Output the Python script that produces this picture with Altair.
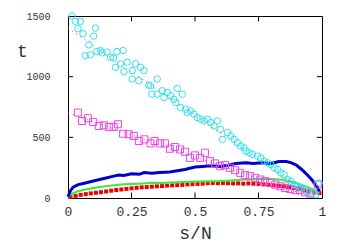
import altair as alt
import pandas as pd

# cyan circles
cyan_s = [0.016,0.029,0.049,0.039,0.059,0.108,0.082,0.101,0.068,0.088,0.128,0.114,0.134,0.154,0.167,0.180,0.193,0.217,0.187,0.207,
          0.233,0.220,0.253,0.266,0.286,0.299,0.253,0.279,0.318,0.325,0.351,0.330,0.351,0.371,0.378,0.391,0.404,0.417,0.424,0.430,
          0.450,0.443,0.463,0.470,0.483,0.496,0.509,0.522,0.536,0.549,0.562,0.575,0.588,0.601,0.608,0.628,0.641,0.654,0.667,0.680,
          0.693,0.700,0.713,0.726,0.746,0.759,0.772,0.786,0.799,0.812,0.825,0.838,0.851,0.864,0.878,0.891,0.904,0.917,0.930,0.943,
          0.963,0.976,0.989]
cyan_t = [1500,1456,1456,1395,1354,1400,1262,1334,1174,1180,1215,1207,1196,1202,1160,1152,1207,1215,1077,1105,
          1119,1041,1050,1105,1077,1050,981,967,931,925,981,856,856,884,829,870,843,815,787,903,
          856,746,732,704,718,691,663,649,635,649,622,594,635,566,483,539,511,483,456,428,
          414,387,373,359,345,331,304,290,276,249,235,207,193,152,138,110,97,83,69,55,
          41,28,124]

# magenta squares
mag_s = [0.039,0.055,0.078,0.099,0.121,0.141,0.161,0.180,0.197,0.217,0.239,0.259,0.279,0.301,0.325,0.341,0.362,0.382,0.401,0.421,
         0.441,0.461,0.480,0.500,0.520,0.539,0.559,0.579,0.599,0.618,0.638,0.658,0.678,0.697,0.717,0.737,0.757,0.776,0.796,0.816,
         0.836,0.855,0.875,0.895,0.914,0.934,0.954,0.983]
mag_t = [704,635,657,627,594,599,586,586,608,530,525,511,470,483,450,470,450,450,406,420,
         400,381,331,351,331,373,304,285,262,271,249,229,207,188,180,166,152,138,124,110,
         97,83,75,64,64,47,36,110]

# blue curve
blue_s = [0,0.01,0.02,0.04,0.06,0.08,0.1,0.12,0.15,0.18,0.2,0.22,0.25,0.28,0.3,0.33,0.36,0.4,0.43,0.46,
          0.5,0.53,0.56,0.6,0.63,0.66,0.7,0.73,0.76,0.8,0.83,0.86,0.88,0.9,0.92,0.94,0.96,0.98,0.99]
blue_t = [10,60,90,110,120,130,140,150,165,180,190,185,200,195,210,205,210,215,225,235,
          255,260,265,260,270,285,290,285,290,285,300,300,290,270,235,195,150,95,55]

# green curve
green_s = [0,0.01,0.02,0.04,0.06,0.08,0.1,0.13,0.16,0.19,0.22,0.25,0.28,0.31,0.34,0.37,0.4,0.44,0.48,0.52,
           0.56,0.6,0.64,0.68,0.72,0.76,0.8,0.84,0.87,0.9,0.92,0.94,0.96,0.98,0.99]
green_t = [5,25,40,55,66,74,82,92,100,108,113,115,118,122,125,124,127,130,133,135,
           138,140,145,150,155,158,156,150,140,122,108,92,75,55,45]

# red squares
red_s = [0.01,0.03,0.05,0.07,0.09,0.11,0.13,0.15,0.17,0.19,0.21,0.23,0.25,0.27,0.29,0.31,0.33,0.35,0.37,0.39,
         0.41,0.43,0.45,0.47,0.49,0.51,0.53,0.55,0.57,0.59,0.61,0.63,0.65,0.67,0.69,0.71,0.73,0.75,0.77,0.79,
         0.81,0.83,0.85,0.87,0.89,0.91,0.93,0.95,0.97,0.99]
red_t = [8,18,26,32,38,43,48,54,60,66,70,75,80,84,88,90,93,96,98,102,
         104,106,108,112,114,116,118,122,124,122,124,122,120,121,118,120,118,116,112,108,
         104,100,96,90,82,74,64,54,46,40]

# dotted fit lines
fit_s = [0, 0.97]
fit_cyan = [1400, 0]
fit_mag = [700, 0]

x_ticks = [0, 0.25, 0.5, 0.75, 1]
y_ticks = [0, 500, 1000, 1500]

xs = alt.Scale(domain=[0, 1], nice=False)
ys = alt.Scale(domain=[0, 1500], nice=False)

FONT = "Liberation Mono"

xaxis = alt.Axis(values=x_ticks, labelExpr="datum.value == 0 ? '0' : datum.value == 1 ? '1' : format(datum.value, '')",
                 ticks=False, domain=False, grid=False, labelFont=FONT, labelFontSize=13, labelColor="#333",
                 labelPadding=7, title="s/N", titleFont=FONT, titleFontSize=18, titleFontWeight="normal",
                 titleColor="#333", titleY=35, titleBaseline="middle", labelFlush=False)
yaxis = alt.Axis(values=y_ticks, format="d", ticks=False, domain=False, grid=False, labelFont=FONT, labelFontSize=10,
                 labelColor="#333", labelPadding=18, title="t", titleFont=FONT, titleFontSize=18,
                 titleFontWeight="normal", titleColor="#333", titleAngle=0, titleX=-46, titleY=35,
                 titleBaseline="middle", titleAlign="center", labelFlush=False)

df_c = pd.DataFrame({"s": cyan_s, "t": cyan_t})
df_m = pd.DataFrame({"s": mag_s, "t": mag_t})
df_b = pd.DataFrame({"s": blue_s, "t": blue_t})
df_g = pd.DataFrame({"s": green_s, "t": green_t})
df_r = pd.DataFrame({"s": red_s, "t": red_t})
df_fc = pd.DataFrame({"s": fit_s, "t": fit_cyan})
df_fm = pd.DataFrame({"s": fit_s, "t": fit_mag})

# inward tick marks built from tick values
tx = pd.DataFrame({"v": [0.25, 0.5, 0.75]})
ty = pd.DataFrame({"v": [500, 1000]})

base_x = alt.X("s:Q", scale=xs, axis=xaxis)
base_y = alt.Y("t:Q", scale=ys, axis=yaxis)

red = alt.Chart(df_r).mark_point(shape="square", filled=True, size=16, color="#ee0000", opacity=1).encode(x=base_x, y=base_y)
green = alt.Chart(df_g).mark_line(color="#33ee33", strokeWidth=2).encode(x="s:Q", y="t:Q")
blue = alt.Chart(df_b).mark_line(color="#0000cc", strokeWidth=3).encode(x="s:Q", y="t:Q")
mag = alt.Chart(df_m).mark_point(shape="square", filled=False, size=50, color="#ee44ee", strokeWidth=1, opacity=1).encode(x="s:Q", y="t:Q")
cyan = alt.Chart(df_c).mark_point(shape="circle", filled=False, size=42, color="#33e0ee", strokeWidth=1, opacity=1).encode(x="s:Q", y="t:Q")
fitc = alt.Chart(df_fc).mark_line(color="#777", strokeWidth=1, strokeDash=[1, 4]).encode(x="s:Q", y="t:Q")
fitm = alt.Chart(df_fm).mark_line(color="#777", strokeWidth=1, strokeDash=[1, 4]).encode(x="s:Q", y="t:Q")

tick_bot = alt.Chart(tx).mark_rule(color="black").encode(x="v:Q", y=alt.datum(0), y2=alt.datum(45))
tick_top = alt.Chart(tx).mark_rule(color="black").encode(x="v:Q", y=alt.datum(1455), y2=alt.datum(1500))
tick_l = alt.Chart(ty).mark_rule(color="black").encode(y="v:Q", x=alt.datum(0), x2=alt.datum(0.02))
tick_r = alt.Chart(ty).mark_rule(color="black").encode(y="v:Q", x=alt.datum(0.98), x2=alt.datum(1))

chart = alt.layer(red, green, blue, fitc, fitm, mag, cyan, tick_bot, tick_top, tick_l, tick_r).properties(
    width=254, height=182,
    autosize=alt.AutoSizeParams(type="none"),
    padding={"left": 60, "top": 8, "right": 14, "bottom": 44},
    background="white",
).configure_view(stroke="black", strokeWidth=1)

chart.save("out.html", embed_options={"renderer": "svg", "actions": False})
